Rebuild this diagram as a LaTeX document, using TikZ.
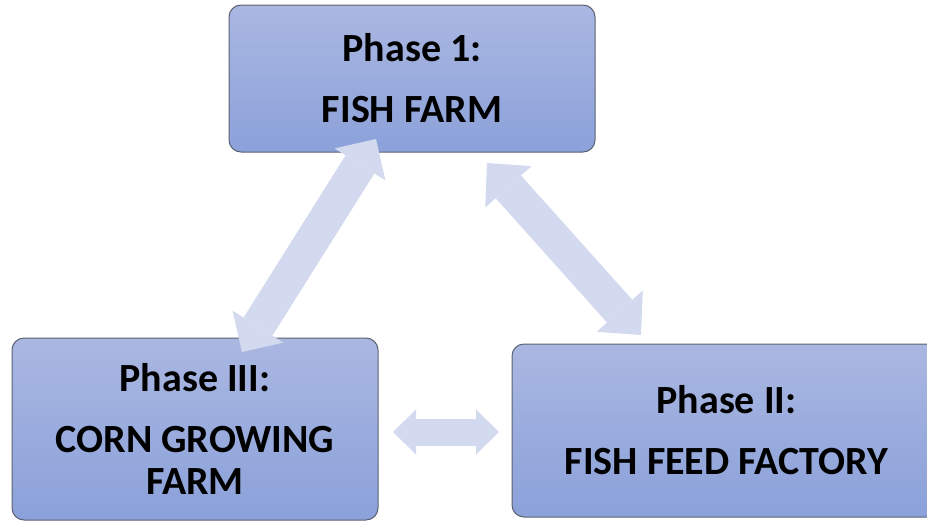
\documentclass[tikz,border=0pt]{standalone}
\usepackage{fontspec}
\setmainfont{Carlito}
\usetikzlibrary{arrows.meta}
\definecolor{boxtop}{HTML}{AAB7E1}
\definecolor{boxbot}{HTML}{8BA1DA}
\definecolor{boxline}{HTML}{5A6272}
\definecolor{arrfill}{HTML}{D3D9EE}
\begin{document}
\begin{tikzpicture}[x=1pt, y=-1pt,
	phasebox/.style={rectangle, rounded corners=12pt, draw=boxline, line width=1pt,
		top color=boxtop, bottom color=boxbot, align=center,
		font=\fontsize{40}{42}\selectfont\bfseries},
	fatarrow/.style={draw=arrfill, line width=#1},
	fatarrow/.default=34pt]
	\useasboundingbox (0,0) rectangle (927,522);
	\clip (0,0) rectangle (927,522);
	\node [phasebox, minimum width=366pt, minimum height=147pt] (fishfarm) at (412,78.5) {Phase 1:\\[19pt]FISH FARM};
	\node [phasebox, minimum width=366pt, minimum height=182pt] (corn) at (195,429) {Phase III:\\[19pt]CORN GROWING\\FARM};
	\node [phasebox, minimum width=429pt, minimum height=173pt] (feed) at (726.5,430.5) {Phase II:\\[19pt]FISH FEED FACTORY};
	\coordinate (farmL) at (376,139);
	\coordinate (cornT) at (242,352);
	\coordinate (farmR) at (487,163);
	\coordinate (feedT) at (641,335);
	\coordinate (cornR) at (393,432);
	\coordinate (feedL) at (499,432);
	\draw [fatarrow, {Triangle[width=60pt,length=30pt,line width=0pt]}-{Triangle[width=60pt,length=30pt,line width=0pt]}] (cornT) -- (farmL);
	\draw [fatarrow, {Triangle[width=62pt,length=32pt,line width=0pt]}-{Triangle[width=62pt,length=32pt,line width=0pt]}] (farmR) -- (feedT);
	\draw [fatarrow=27pt, {Triangle[width=45pt,length=23pt,line width=0pt]}-{Triangle[width=45pt,length=23pt,line width=0pt]}] (cornR) -- (feedL);
\end{tikzpicture}
\end{document}
